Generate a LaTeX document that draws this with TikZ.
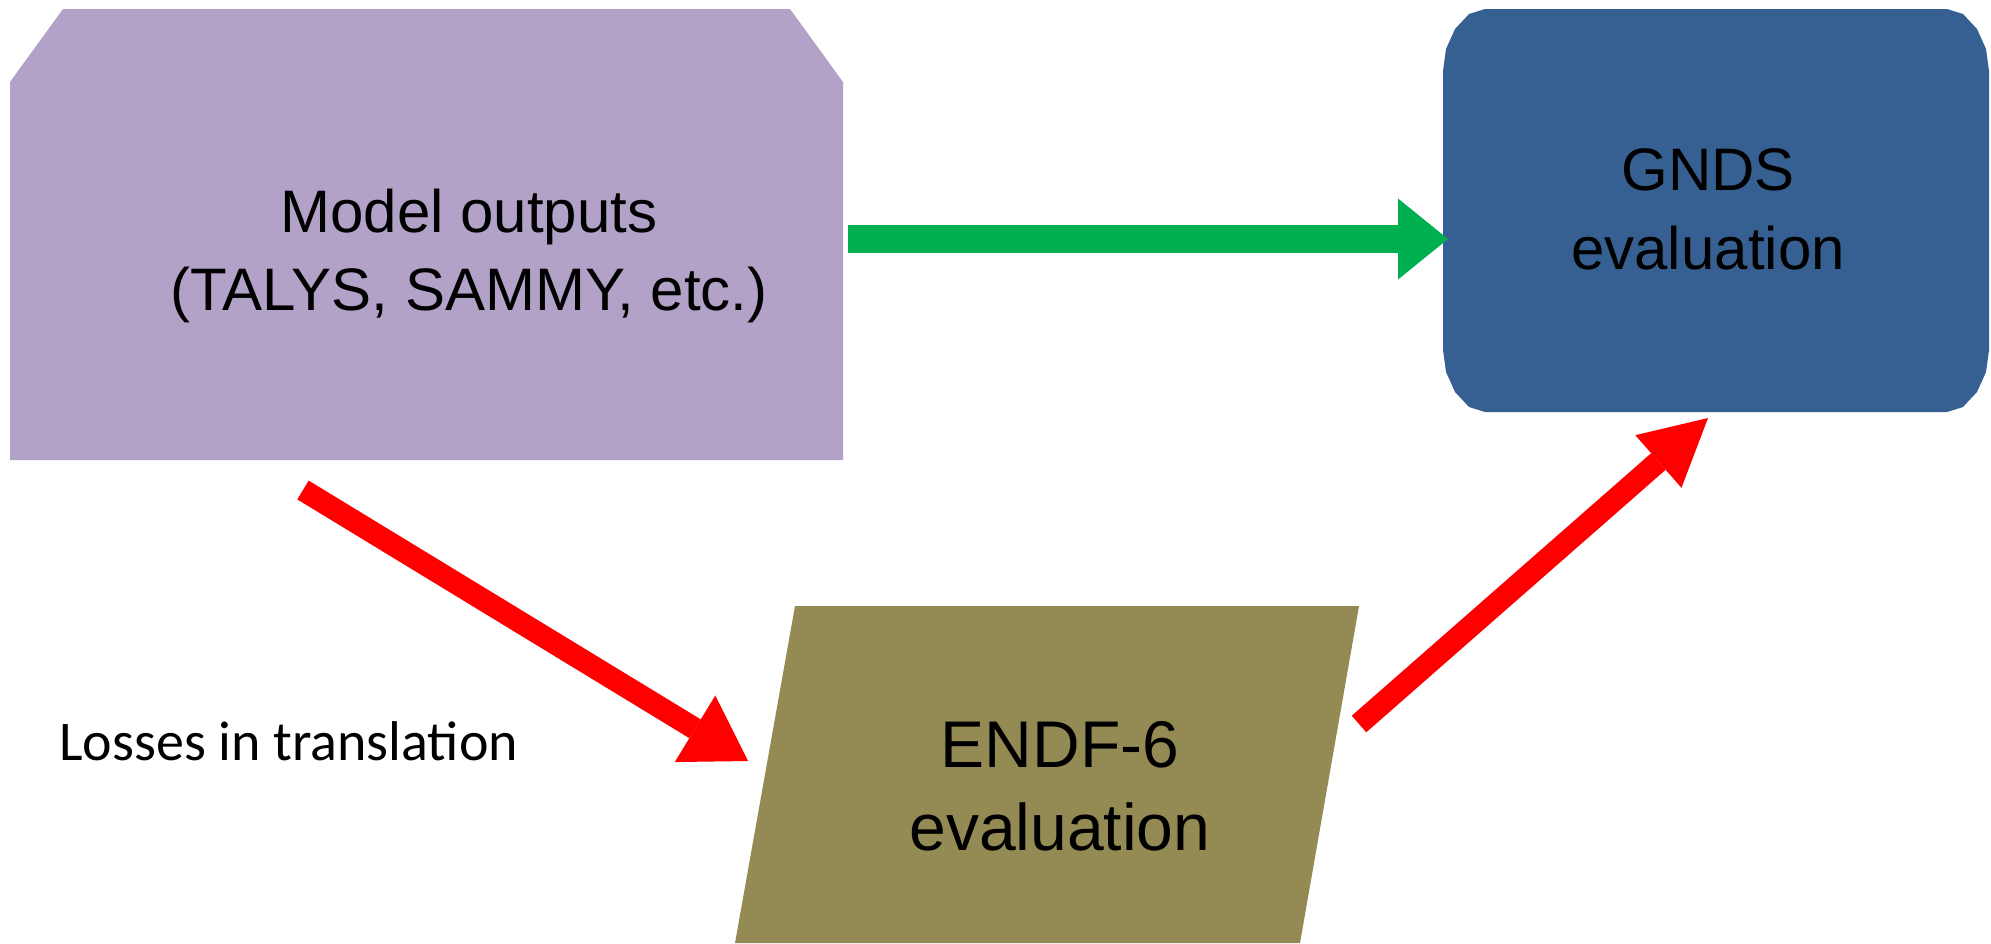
\documentclass[tikz,border=0pt]{standalone}
\usepackage{fontspec}
\setmainfont{Liberation Sans}
\newfontfamily\calibri{Carlito}
\usetikzlibrary{arrows.meta}
\definecolor{lav}{HTML}{B3A2C7}
\definecolor{gndsblue}{HTML}{376092}
\definecolor{endfolive}{HTML}{948A54}
\definecolor{okgreen}{HTML}{00B050}
\definecolor{lossred}{HTML}{FF0000}
\begin{document}
\begin{tikzpicture}[x=0.5pt,y=-0.5pt,
  lbl/.style={inner sep=0pt, anchor=base, font=\fontsize{30}{36}\selectfont},
  lblbig/.style={inner sep=0pt, anchor=base, font=\fontsize{33}{40}\selectfont},
  note/.style={inner sep=0pt, anchor=base west, font=\calibri\fontsize{28}{34}\selectfont},
  greenarrow/.style={draw=okgreen, line width=14pt,
    -{Triangle[length=25pt,width=40.5pt,line width=0pt]}},
  redarrowA/.style={draw=lossred, line width=11pt,
    -{Triangle[length=31pt,width=39pt,line width=0pt]}},
  redarrowB/.style={draw=lossred, line width=11pt,
    -{Triangle[length=33pt,width=35pt,line width=0pt]}},
  ]
\useasboundingbox (0,0) rectangle (1991,943);
% Model outputs box (snipped top corners)
\fill[lav] (10,82) -- (63,9) -- (790,9) -- (843,82) -- (843,460) -- (10,460) -- cycle;
% GNDS box (rounded corners)
\fill[gndsblue] (1443,71) -- (1446,49) -- (1455,29) -- (1469,14) -- (1485,9)
  -- (1947,9) -- (1963,14) -- (1977,29) -- (1986,49) -- (1989,71)
  -- (1989,350) -- (1986,372) -- (1977,392) -- (1963,407) -- (1947,412)
  -- (1485,412) -- (1469,407) -- (1455,392) -- (1446,372) -- (1443,350) -- cycle;
% ENDF-6 parallelogram
\fill[endfolive] (795,606) -- (1359,606) -- (1300,943) -- (735,943) -- cycle;
% connector end points
\coordinate (modelR) at (848,239);
\coordinate (gndsL) at (1448,239);
\coordinate (modelB) at (303,490);
\coordinate (endfL) at (748,761);
\coordinate (endfR) at (1359,724);
\coordinate (gndsB) at (1708,418);
\draw[greenarrow] (modelR) -- (gndsL);
\draw[redarrowA] (modelB) -- (endfL);
\draw[redarrowB] (endfR) -- (gndsB);
% texts
\node[lbl] (model1) at (469,232) {Model outputs};
\node[lbl] (model2) at (469,310) {(TALYS, SAMMY, etc.)};
\node[lbl] (gnds1) at (1708,190) {GNDS};
\node[lbl] (gnds2) at (1708,269) {evaluation};
\node[lblbig] (endf1) at (1060,767) {ENDF-6};
\node[lblbig] (endf2) at (1060,850) {evaluation};
\node[note] (losses) at (59,760) {Losses in translation};
\end{tikzpicture}
\end{document}
